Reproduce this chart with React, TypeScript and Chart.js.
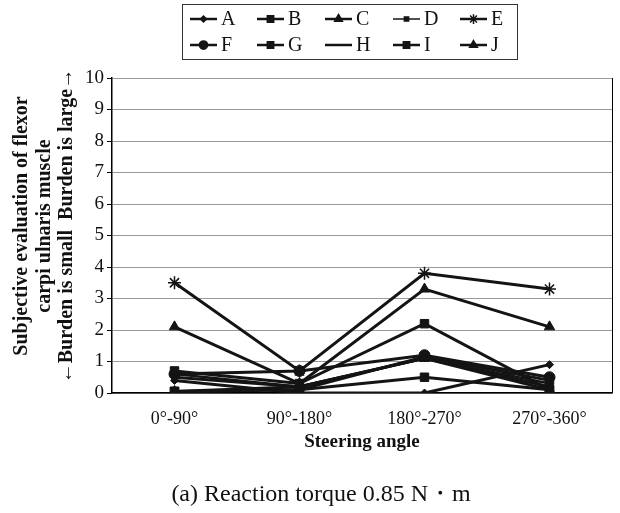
import React, { useEffect, useRef } from "react";
import { Chart, registerables } from "chart.js";
import { drawPoint } from "chart.js/helpers";

Chart.register(...registerables);

const categories = ["0°-90°", "90°-180°", "180°-270°", "270°-360°"];
const seriesNames = ["A", "B", "C", "D", "E", "F", "G", "H", "I", "J"];

const seriesA = [0.4, 0.0, 0.0, 0.9];
const seriesB = [0.7, 0.3, 2.2, 0.1];
const seriesC = [2.1, 0.3, 3.3, 2.1];
const seriesD = [0.6, 0.2, 1.1, 0.3];
const seriesE = [3.5, 0.7, 3.8, 3.3];
const seriesF = [0.6, 0.7, 1.2, 0.5];
const seriesG = [0.05, 0.1, 0.5, 0.1];
const seriesH = [0.5, 0.2, 1.1, 0.2];
const seriesI = [0.05, 0.1, 1.15, 0.4];
const seriesJ = [0.05, 0.2, 1.1, 0.1];

const yMin = 0;
const yMax = 10;
const yStep = 1;

const xTitle = "Steering angle";
const yTitleLines = [
  "Subjective evaluation of flexor",
  "carpi ulnaris muscle",
  "←Burden is small  Burden is large→",
];
const caption = "(a) Reaction torque 0.85 N・m";

const allSeries = [seriesA, seriesB, seriesC, seriesD, seriesE, seriesF, seriesG, seriesH, seriesI, seriesJ];
const markerStyles = ["rectRot", "rect", "triangle", "rect", "star", "circle", "rect", false, "rect", "triangle"];
const markerRadius = [4, 6, 6, 4, 6.5, 5.5, 6, 0, 6, 6];
const lineWidths = [3, 3, 3, 2.5, 3, 3, 3, 3, 3, 3];

const INK = "#141414";
const SERIF = "'Liberation Serif', 'Times New Roman', serif";

const decorPlugin = {
  id: "decor",
  afterDraw(chart: any) {
    const ctx = chart.ctx as CanvasRenderingContext2D;
    const area = chart.chartArea;
    ctx.save();
    // right border
    ctx.strokeStyle = "#000";
    ctx.lineWidth = 1;
    ctx.beginPath();
    ctx.moveTo(area.right + 0.5, area.top);
    ctx.lineTo(area.right + 0.5, area.bottom);
    ctx.stroke();

    // legend box
    const bx = 182, by = 4, bw = 335, bh = 55;
    ctx.strokeStyle = "#333";
    ctx.lineWidth = 1;
    ctx.strokeRect(bx + 0.5, by + 0.5, bw, bh);
    const colX = [190, 257, 325, 393, 460];
    const rowY = [19, 45];
    ctx.font = `20px ${SERIF}`;
    ctx.textBaseline = "middle";
    ctx.textAlign = "left";
    seriesNames.forEach((name, i) => {
      const col = i % 5;
      const row = Math.floor(i / 5);
      const x0 = colX[col];
      const y0 = rowY[row];
      ctx.strokeStyle = INK;
      ctx.fillStyle = INK;
      ctx.lineWidth = i === 3 ? 1.5 : 2.5;
      ctx.beginPath();
      ctx.moveTo(x0, y0);
      ctx.lineTo(x0 + 27, y0);
      ctx.stroke();
      if (markerStyles[i]) {
        ctx.lineWidth = 1.5;
        drawPoint(ctx, { pointStyle: markerStyles[i], radius: markerRadius[i] * 0.75, rotation: 0, borderWidth: 1.5 } as any, x0 + 13.5, y0);
      }
      ctx.fillStyle = "#111";
      ctx.fillText(name, x0 + 31, y0 + 1);
    });

    // y title
    ctx.fillStyle = "#111";
    ctx.font = `bold 20px ${SERIF}`;
    ctx.textAlign = "center";
    ctx.textBaseline = "middle";
    const ycx = [22, 45, 67];
    yTitleLines.forEach((line, i) => {
      ctx.save();
      ctx.translate(ycx[i], 226);
      ctx.rotate(-Math.PI / 2);
      ctx.fillText(line, 0, 0);
      ctx.restore();
    });

    // x title
    ctx.font = `bold 19px ${SERIF}`;
    ctx.fillText(xTitle, 362, 442);

    // caption
    ctx.font = `24px ${SERIF}`;
    ctx.fillText(caption, 321, 495);
    ctx.restore();
  },
};

export default function App() {
  const canvasRef = useRef<HTMLCanvasElement | null>(null);

  useEffect(() => {
    document.body.style.margin = "0";
    const canvas = canvasRef.current;
    if (!canvas) return;
    const datasets = allSeries.map((data, i) => ({
      label: seriesNames[i],
      data,
      borderColor: INK,
      backgroundColor: INK,
      pointBackgroundColor: INK,
      pointBorderColor: INK,
      pointBorderWidth: markerStyles[i] === "star" ? 1.5 : 1,
      borderWidth: lineWidths[i],
      pointStyle: markerStyles[i] || "circle",
      pointRadius: markerRadius[i],
      tension: 0,
      fill: false,
    }));
    const chart = new Chart(canvas, {
      type: "line",
      data: { labels: categories, datasets },
      options: {
        responsive: false,
        animation: false,
        devicePixelRatio: 1,
        layout: { padding: { top: 78, left: 0, right: 8, bottom: 0 } },
        plugins: { legend: { display: false }, tooltip: { enabled: false } },
        scales: {
          x: {
            offset: true,
            grid: { display: false, drawTicks: false },
            border: { display: true, color: "#000", width: 1.5 },
            ticks: { color: "#111", font: { family: SERIF, size: 18 }, padding: 15, maxRotation: 0 },
            afterFit: (s: any) => { s.height = 120; },
          },
          y: {
            min: yMin,
            max: yMax,
            ticks: { stepSize: yStep, color: "#111", font: { family: SERIF, size: 19 }, padding: 3 },
            grid: { color: "#9a9a9a", lineWidth: 1, tickColor: "#000", tickLength: 5 },
            border: { display: true, color: "#000", width: 1.5 },
            afterFit: (s: any) => { s.width = 112; },
          },
        },
      },
      plugins: [decorPlugin],
    });
    return () => chart.destroy();
  }, []);

  return (
    <div style={{ width: 620, height: 513 }}>
      <canvas ref={canvasRef} width={620} height={513} style={{ width: 620, height: 513, display: "block" }} />
    </div>
  );
}
